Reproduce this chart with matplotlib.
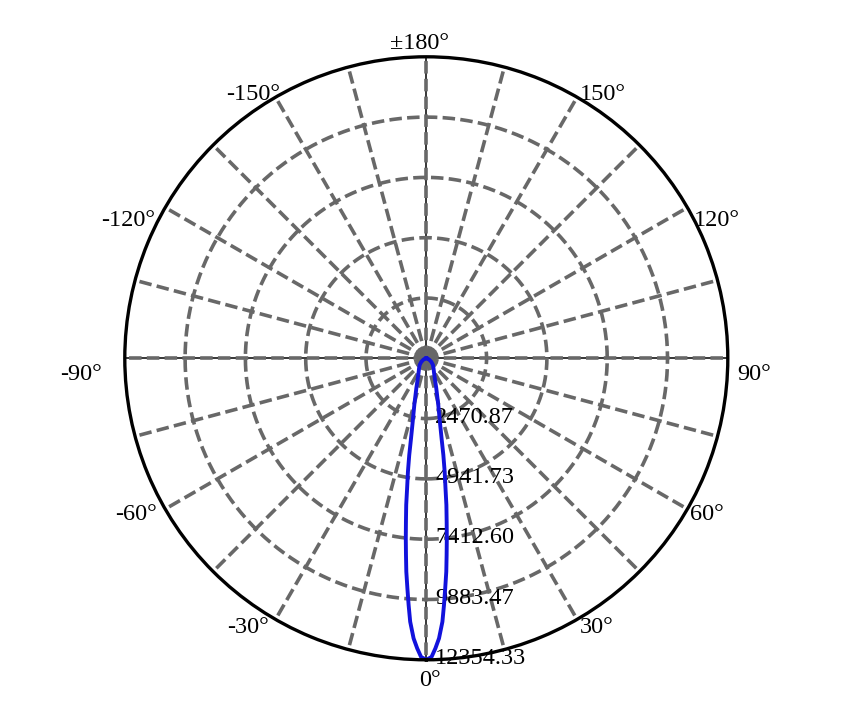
import numpy as np
import matplotlib
matplotlib.use("Agg")
import matplotlib.pyplot as plt

plt.rcParams['font.family'] = ['Liberation Serif', 'DejaVu Serif']
plt.rcParams['lines.scale_dashes'] = False

# ---- data ----
angles_deg = [-180, -150, -120, -105, -90, -75, -65, -55, -45, -35, -25.6, -18.4, -14.4,
              -12.1, -10.8, -10.0, -9.2, -8.4, -7.8, -7.1, -6.5, -5.9, -5.35, -4.7, -4.1,
              -3.5, -2.6, -1.8, -1.0, 0,
              1.0, 1.8, 2.6, 3.5, 4.1, 4.7, 5.35, 5.9, 6.5, 7.1, 7.8, 8.4, 9.2, 10.0,
              10.8, 12.1, 14.4, 18.4, 25.6, 35, 45, 55, 65, 75, 90, 105, 120, 150, 180]
intensity = [0, 0, 0, 0, 15, 60, 130, 250, 385, 520, 758, 1295, 1975,
             2656, 3339, 4024, 4708, 5385, 6066, 6749, 7425, 8102, 8783, 9458, 10135,
             10815, 11487, 11890, 12240, 12354,
             12240, 11890, 11487, 10815, 10135, 9458, 8783, 8102, 7425, 6749, 6066, 5385, 4708, 4024,
             3339, 2656, 1975, 1295, 758, 520, 385, 250, 130, 60, 15, 0, 0, 0, 0]

r_max = 12354.33
r_ticks = [2470.87, 4941.73, 7412.60, 9883.47, 12354.33]
r_tick_labels = ["2470.87", "4941.73", "7412.60", "9883.47", "12354.33"]

theta_label_angles = [180, 150, 120, 90, 60, 30, 0, -30, -60, -90, -120, -150]
theta_label_texts = ["±180°", "150°", "120°", "90°", "60°", "30°", "0°",
                     "-30°", "-60°", "-90°", "-120°", "-150°"]
# (dx, dy, ha) pixel offsets from the outer circle point
theta_label_style = {
    180: (-7, 16, 'center'), 150: (3, 5.5, 'left'), 120: (6, -10.3, 'left'),
    90: (9, -13.4, 'left'), 60: (2.6, -2.6, 'left'), 30: (3, -5.6, 'left'),
    0: (4, -18.2, 'center'), -30: (-7, -5.6, 'right'), -60: (-8.5, -2.6, 'right'),
    -90: (-23, -13.4, 'right'), -120: (-10, -10.3, 'right'), -150: (4.5, 5.5, 'right'),
}

grid_color = '#686868'
curve_color = '#1212dc'

fig = plt.figure(figsize=(8.41, 7.04), dpi=100, facecolor='white')
ax = fig.add_axes([124.8 / 841, 44.2 / 704, 603 / 841, 603 / 704], projection='polar')
ax.set_theta_zero_location('S')
ax.set_theta_direction(1)
ax.set_ylim(0, r_max)
ax.grid(False)
ax.set_xticks([])
ax.set_yticks([])
ax.spines['polar'].set_color('black')
ax.spines['polar'].set_linewidth(2.4)
ax.spines['polar'].set_zorder(6)

# black thin crosshair
for t in [0, 90, 180, 270]:
    ax.plot([np.deg2rad(t)] * 2, [0, r_max], color='black', lw=1.1, zorder=1)

dash = (0, (9.0, 3.8))
# dashed spokes every 15 degrees
for t in range(0, 360, 15):
    ax.plot([np.deg2rad(t)] * 2, [0, r_max], color=grid_color, lw=2.6,
            linestyle=dash, zorder=2, dash_capstyle='butt')

# dashed rings
th = np.linspace(0, 2 * np.pi, 721)
for rv in r_ticks[:-1]:
    ax.plot(th, np.full_like(th, rv), color=grid_color, lw=2.6, linestyle=dash,
            zorder=2, dash_capstyle='butt')

# radial labels
for rv, lab in zip(r_ticks, r_tick_labels):
    ax.annotate(lab, xy=(0, rv), xytext=(9, 4), textcoords='offset pixels',
                ha='left', va='center_baseline', fontsize=17.5, color='black',
                zorder=3, annotation_clip=False)

# angle labels
for a, lab in zip(theta_label_angles, theta_label_texts):
    dx, dy, ha = theta_label_style[a]
    ax.annotate(lab, xy=(np.deg2rad(a), r_max), xytext=(dx, dy),
                textcoords='offset pixels', ha=ha, va='center_baseline',
                fontsize=17.5, color='black', annotation_clip=False, zorder=3)

# intensity curve
ax.plot(np.deg2rad(angles_deg), intensity, color=curve_color, lw=2.8, zorder=5,
        solid_joinstyle='round')

fig.savefig('out.png', dpi=100, facecolor='white')
